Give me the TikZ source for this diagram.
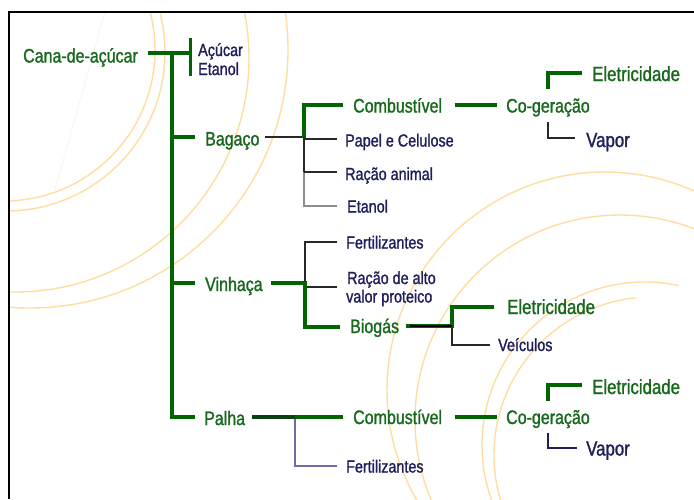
\documentclass[tikz,border=0pt]{standalone}
\usepackage{fontspec}
\setmainfont[FakeStretch=0.82,FakeBold=1.3]{Liberation Sans}
\definecolor{lgreen}{RGB}{0,100,0}
\definecolor{tgreen}{RGB}{24,104,30}
\definecolor{navyt}{RGB}{30,30,92}
\definecolor{arcc}{RGB}{254,222,160}
\definecolor{darkl}{RGB}{40,40,40}
\definecolor{grayl}{RGB}{140,140,140}
\definecolor{bluel}{RGB}{110,110,165}
\tikzset{
  lab/.style={inner sep=0pt, anchor=base west},
  glab/.style={lab, text=tgreen, font=\fontsize{19.5}{20}\selectfont},
  glabbig/.style={lab, text=tgreen, font=\fontsize{20.5}{21}\selectfont},
  nlab/.style={lab, text=navyt, font=\fontsize{17.5}{18.5}\selectfont},
  nlabbig/.style={lab, text=navyt, font=\fontsize{20.5}{21}\selectfont},
  gline/.style={draw=lgreen, line width=4pt},
  tline/.style={draw=darkl, line width=1.2pt},
  deco/.style={draw=arcc, line width=1.4pt},
}
\begin{document}
\begin{tikzpicture}[x=1pt,y=-1pt]
\useasboundingbox (0,0) rectangle (694,499);
% background decorations
\begin{scope}
\clip (10,13) rectangle (694,499);
\draw[deco] (4,50) circle[radius=151];
\draw[deco] (6,52) circle[radius=159];
\draw[deco] (15,58) circle[radius=234];
\draw[deco] (30,50) circle[radius=258];
\draw[draw={rgb,255:red,255;green,244;blue,232}, line width=1pt] (105,12) -- (55,190);
\draw[deco] (605,390) circle[radius=218];
\draw[deco] (620,420) circle[radius=205];
\draw[deco] (645,445) ++(-78:163) arc[start angle=-78, end angle=-270, radius=163];
\draw[deco] (652,455) ++(-96:158) arc[start angle=-96, end angle=-270, radius=158];
\end{scope}
% frame
\draw[line width=2.2pt] (9,499) -- (9,12) -- (694,12);

% labels
\node[glab] (cana) at (23,62.5) {Cana-de-açúcar};
\node[nlab] (acucar) at (198,56) {Açúcar};
\node[nlab] (etanolA) at (198,75) {Etanol};
\node[glab] (bagaco) at (205,145.5) {Bagaço};
\node[glab] (combA) at (353,112.5) {Combustível};
\node[glab] (cogA) at (506,112.5) {Co-geração};
\node[glabbig] (eletA) at (592,81) {Eletricidade};
\node[nlabbig] (vaporA) at (586,147) {Vapor};
\node[nlab] (papel) at (345,146.5) {Papel e Celulose};
\node[nlab] (racao) at (345,180) {Ração animal};
\node[nlab] (etanolB) at (347,212.5) {Etanol};
\node[glab] (vinhaca) at (205,291) {Vinhaça};
\node[nlab] (fertA) at (346,248.5) {Fertilizantes};
\node[nlab] (racaoB) at (347,284) {Ração de alto};
\node[nlab] (racaoC) at (346,302.5) {valor proteico};
\node[glab] (biogas) at (350,333) {Biogás};
\node[glabbig] (eletB) at (507,314) {Eletricidade};
\node[nlab] (veic) at (498,351) {Veículos};
\node[glab] (palha) at (204,425) {Palha};
\node[nlab] (fertB) at (346,472.5) {Fertilizantes};
\node[glab] (combB) at (353,424) {Combustível};
\node[glab] (cogB) at (506,424) {Co-geração};
\node[glabbig] (eletC) at (592,394) {Eletricidade};
\node[nlabbig] (vaporB) at (586,455.5) {Vapor};

% junction coordinates
\coordinate (c0) at (148,53);
\coordinate (c1) at (190,53);
\coordinate (c1a) at (190,38);
\coordinate (c1b) at (190,76);
\coordinate (t0) at (172,53);
\coordinate (tB) at (172,137);
\coordinate (tV) at (172,283);
\coordinate (tP) at (172,417);
\coordinate (eB) at (195,137);
\coordinate (eV) at (195,283);
\coordinate (eP) at (195,417);

% main trunk
\draw[gline] (c0) -- (c1);
\draw[draw=lgreen, line width=3pt] (c1a) -- (c1b);
\draw[gline, line width=4.5pt] (t0) -- (tP) -- (eP);
\draw[gline] (tB) -- (eB);
\draw[gline] (tV) -- (eV);

% Bagaco branch
\coordinate (b0) at (265,137);
\coordinate (bj) at (304,137);
\coordinate (bu) at (304,105);
\coordinate (bc) at (343,105);
\coordinate (bp) at (337,139);
\coordinate (bpj) at (304,139);
\coordinate (brj) at (304,172);
\coordinate (br) at (337,172);
\coordinate (bej) at (304,206);
\coordinate (be) at (337,206);
\draw[draw=darkl, line width=2.6pt] (b0) -- (bj);
\draw[gline] ([yshift=-1pt]bj) -- (bu) -- (bc);
\draw[draw=darkl, line width=2pt] (bj) -- (brj);
\draw[draw=grayl, line width=1.3pt] (brj) -- (bej) -- (be);
\draw[tline] (bpj) -- (bp);
\draw[tline] (brj) -- (br);

% Combustivel -> Co-geracao (top)
\coordinate (k0) at (455,105);
\coordinate (k1) at (497,105);
\draw[gline] (k0) -- (k1);
\coordinate (u0) at (548,89);
\coordinate (u1) at (548,73);
\coordinate (u2) at (582,73);
\draw[gline] (u0) -- (u1) -- (u2);
\coordinate (d0) at (548,122);
\coordinate (d1) at (548,138);
\coordinate (d2) at (575,138);
\draw[draw=darkl, line width=1.1pt] (d0) -- (d1) -- (d2);

% Vinhaca branch
\coordinate (v0) at (271,283);
\coordinate (vj) at (305,283);
\coordinate (vd) at (305,327);
\coordinate (vb) at (340,327);
\coordinate (vf) at (305,242);
\coordinate (vfe) at (337,242);
\coordinate (vrj) at (305,287);
\coordinate (vre) at (337,287);
\draw[tline] (vj) -- (vf) -- (vfe);
\draw[tline] (vrj) -- (vre);
\draw[gline] (v0) -- (vj) -- (vd) -- (vb);

% Biogas branch
\coordinate (g0) at (406,326);
\coordinate (gj) at (452,326);
\coordinate (gu) at (452,307);
\coordinate (ge) at (494,307);
\coordinate (gd) at (452,345);
\coordinate (gv) at (490,345);
\draw[gline] (g0) -- (gj) -- (gu) -- (ge);
\draw[draw=black, line width=1.2pt] (410,326) -- (gj);
\draw[tline] (gj) -- (gd) -- (gv);

% Palha branch
\coordinate (p0) at (252,417);
\coordinate (pj) at (295,417);
\coordinate (pc) at (343,417);
\coordinate (pd) at (295,466);
\coordinate (pf) at (337,466);
\draw[draw=bluel, line width=1.2pt] (pj) -- (pd) -- (pf);
\draw[draw={rgb,255:red,10;green,65;blue,20}, line width=3.4pt] (p0) -- (pj);
\draw[gline] (pj) -- (pc);

% Combustivel -> Co-geracao (bottom)
\coordinate (m0) at (455,417);
\coordinate (m1) at (497,417);
\draw[gline] (m0) -- (m1);
\coordinate (n0) at (548,401);
\coordinate (n1) at (548,385);
\coordinate (n2) at (582,385);
\draw[gline] (n0) -- (n1) -- (n2);
\coordinate (q0) at (548,433);
\coordinate (q1) at (548,448);
\coordinate (q2) at (577,448);
\draw[draw=navyt, line width=1.1pt] (q0) -- (q1) -- (q2);
\end{tikzpicture}
\end{document}
